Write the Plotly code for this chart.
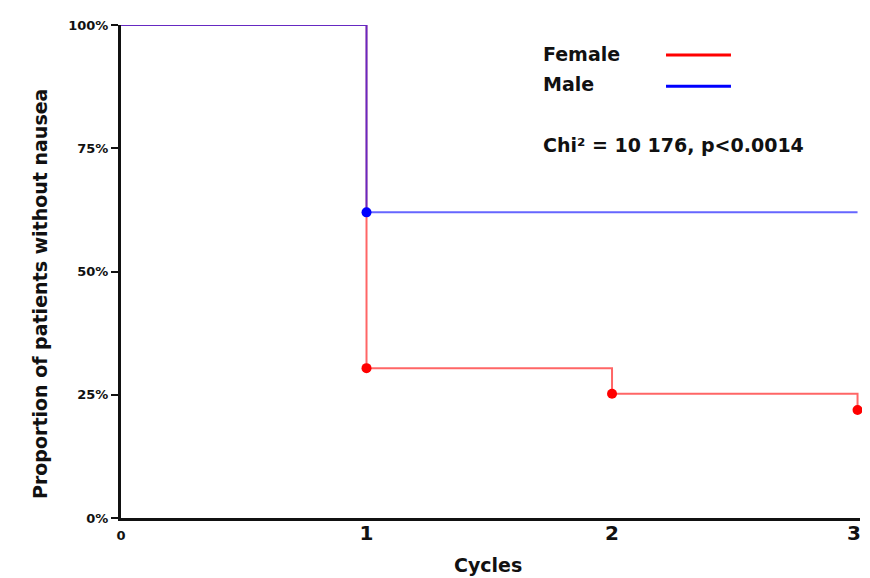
import plotly.graph_objects as go

cycles = [0, 1, 2, 3]
female_x = [0, 1, 2, 3]
female_y = [100, 30.4, 25.2, 21.9]
male_x = [0, 1, 3]
male_y = [100, 62, 62]
female_pts_x = [1, 2, 3]
female_pts_y = [30.4, 25.2, 21.9]
male_pts_x = [1]
male_pts_y = [62]
y_ticks = [0, 25, 50, 75, 100]
y_labels = ["0%", "25%", "50%", "75%", "100%"]
x_labels = ['<b><span style="font-size:13px">0</span></b>', "<b>1</b>", "<b>2</b>", "<b>3&nbsp;</b>"]

FONT = "DejaVu Sans, Liberation Sans, Arial, sans-serif"
INK = "#111111"

fig = go.Figure()
fig.add_trace(go.Scatter(x=female_x, y=female_y, mode="lines", line_shape="hv",
                         line=dict(color="rgba(255,0,0,0.6)", width=2), showlegend=False,
                         cliponaxis=False))
fig.add_trace(go.Scatter(x=male_x, y=male_y, mode="lines", line_shape="hv",
                         line=dict(color="rgba(0,0,255,0.6)", width=2), showlegend=False,
                         cliponaxis=False))
fig.add_trace(go.Scatter(x=female_pts_x, y=female_pts_y, mode="markers",
                         marker=dict(color="#ff0000", size=10), showlegend=False, cliponaxis=False))
fig.add_trace(go.Scatter(x=male_pts_x, y=male_pts_y, mode="markers",
                         marker=dict(color="#0000ff", size=10), showlegend=False, cliponaxis=False))

# legend (text left, line right)
fig.add_annotation(x=0.568, y=0.941, xref="paper", yref="paper", text="<b>Female</b>",
                   showarrow=False, xanchor="left", yanchor="middle",
                   font=dict(family=FONT, size=19, color=INK))
fig.add_annotation(x=0.568, y=0.880, xref="paper", yref="paper", text="<b>Male</b>",
                   showarrow=False, xanchor="left", yanchor="middle",
                   font=dict(family=FONT, size=19, color=INK))
fig.add_shape(type="line", xref="paper", yref="paper", x0=0.7375, x1=0.8254, y0=0.939, y1=0.939,
              line=dict(color="#ff0000", width=3))
fig.add_shape(type="line", xref="paper", yref="paper", x0=0.7375, x1=0.8254, y0=0.876, y1=0.876,
              line=dict(color="#0000ff", width=3))
fig.add_annotation(x=0.568, y=0.757, xref="paper", yref="paper",
                   text="<b>Chi² = 10 176, p<0.0014</b>",
                   showarrow=False, xanchor="left", yanchor="middle",
                   font=dict(family=FONT, size=19, color=INK))

# axis titles as annotations (reference places them off-centre)
fig.add_annotation(x=0, y=0.4544, xref="paper", yref="paper", xshift=-81,
                   text="<b>Proportion of patients without nausea</b>", textangle=-90,
                   showarrow=False, xanchor="center", yanchor="middle",
                   font=dict(family=FONT, size=19, color=INK))
fig.add_annotation(x=0.4966, y=0, xref="paper", yref="paper", yshift=-47,
                   text="<b>Cycles</b>",
                   showarrow=False, xanchor="center", yanchor="middle",
                   font=dict(family=FONT, size=19, color=INK))

# page body has an 8px margin: size/margins compensate so the plot sits as in the reference
fig.update_layout(
    width=854, height=570,
    margin=dict(l=113, r=2, t=17, b=60, autoexpand=False),
    paper_bgcolor="white", plot_bgcolor="white",
    font=dict(family=FONT, color=INK),
)
fig.update_xaxes(range=[0, 3.01], tickvals=cycles, ticktext=x_labels, automargin=False,
                 showgrid=False, zeroline=False, showline=True, linecolor=INK, linewidth=3,
                 ticks="", tickfont=dict(family=FONT, size=20, color=INK),
                 ticklabelstandoff=-5, ticklabeloverflow="allow")
fig.update_yaxes(range=[0, 100], tickvals=y_ticks, ticktext=[f"<b>{t}</b>" for t in y_labels],
                 automargin=False,
                 showgrid=False, zeroline=False, showline=True, linecolor=INK, linewidth=3,
                 ticks="outside", ticklen=7, tickwidth=2, tickcolor=INK,
                 tickfont=dict(family=FONT, size=13, color=INK))

fig.write_html("out.html")
